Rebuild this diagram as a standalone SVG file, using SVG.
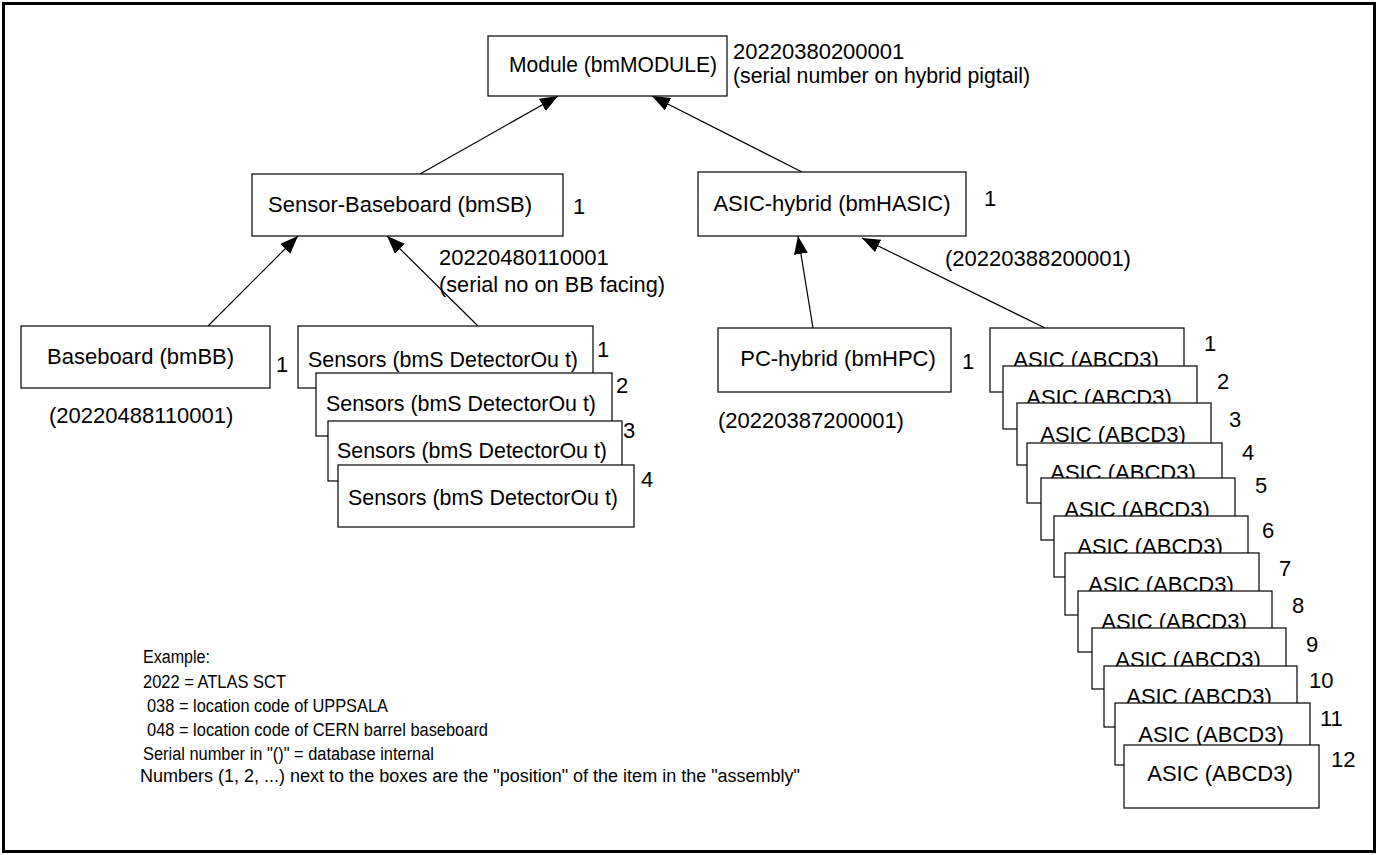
<svg xmlns="http://www.w3.org/2000/svg" width="1378" height="855" viewBox="0 0 1378 855">
<style>
.box{fill:#fff;stroke:#000;stroke-width:1.2}
.t{font-family:"Liberation Sans",Arial,sans-serif;font-size:22px;fill:#000}
.c{text-anchor:middle}
.s{font-family:"Liberation Sans",Arial,sans-serif;font-size:18px;fill:#000}
.ln{stroke:#000;stroke-width:1.2;fill:none;marker-end:url(#ah)}
</style>
<defs>
<marker id="ah" markerUnits="userSpaceOnUse" markerWidth="20" markerHeight="16" refX="18" refY="7" orient="auto">
<path d="M0,0 L18,7 L0,14 z" fill="#000"/>
</marker>
</defs>
<rect x="3.5" y="3.5" width="1371" height="848" fill="#fff" stroke="#000" stroke-width="3"/>

<g id="connectors">
<line class="ln" x1="420" y1="174" x2="558" y2="96"/>
<line class="ln" x1="802" y1="172" x2="652" y2="96"/>
<line class="ln" x1="208" y1="326" x2="298" y2="236"/>
<line class="ln" x1="478" y1="326" x2="387" y2="236"/>
<line class="ln" x1="813" y1="328" x2="798" y2="236"/>
<line class="ln" x1="1045" y1="328" x2="862" y2="238"/>
</g>

<g id="module">
<rect class="box" x="488" y="36" width="239" height="60"/>
<text class="t" x="509" y="72" textLength="208" lengthAdjust="spacingAndGlyphs">Module (bmMODULE)</text>
<text class="t" x="733" y="59">20220380200001</text>
<text class="t" x="733" y="83" textLength="297" lengthAdjust="spacingAndGlyphs">(serial number on hybrid pigtail)</text>
</g>

<g id="sensor-baseboard">
<rect class="box" x="252" y="174" width="311" height="62"/>
<text class="t" x="268" y="212">Sensor-Baseboard (bmSB)</text>
<text class="t" x="573" y="214">1</text>
<text class="t" x="439" y="265">20220480110001</text>
<text class="t" x="439" y="292" textLength="226" lengthAdjust="spacingAndGlyphs">(serial no on BB facing)</text>
</g>

<g id="asic-hybrid">
<rect class="box" x="698" y="172" width="268" height="64"/>
<text class="t c" x="832" y="211">ASIC-hybrid (bmHASIC)</text>
<text class="t" x="984" y="206">1</text>
<text class="t" x="945" y="266">(20220388200001)</text>
</g>

<g id="baseboard">
<rect class="box" x="21" y="326" width="249" height="62"/>
<text class="t" x="47" y="364">Baseboard (bmBB)</text>
<text class="t" x="276" y="372">1</text>
<text class="t" x="49" y="423">(20220488110001)</text>
</g>

<g id="sensors">
<rect class="box" x="298" y="326" width="295" height="62"/>
<text class="t" x="308" y="367" textLength="270" lengthAdjust="spacingAndGlyphs">Sensors (bmS DetectorOu t)</text>
<text class="t" x="597" y="357">1</text>
<rect class="box" x="316" y="373" width="296" height="63"/>
<text class="t" x="326" y="411" textLength="270" lengthAdjust="spacingAndGlyphs">Sensors (bmS DetectorOu t)</text>
<text class="t" x="616" y="393">2</text>
<rect class="box" x="328" y="421" width="294" height="60"/>
<text class="t" x="337" y="458" textLength="270" lengthAdjust="spacingAndGlyphs">Sensors (bmS DetectorOu t)</text>
<text class="t" x="623" y="438">3</text>
<rect class="box" x="338" y="465" width="296" height="62"/>
<text class="t" x="348" y="505" textLength="270" lengthAdjust="spacingAndGlyphs">Sensors (bmS DetectorOu t)</text>
<text class="t" x="641" y="487">4</text>
</g>

<g id="pc-hybrid">
<rect class="box" x="718" y="328" width="233" height="64"/>
<text class="t c" x="838" y="366">PC-hybrid (bmHPC)</text>
<text class="t" x="962" y="369">1</text>
<text class="t" x="718" y="428">(20220387200001)</text>
</g>

<g id="asics">
<rect class="box" x="990" y="328" width="194" height="64"/><text class="t c" x="1086" y="367">ASIC (ABCD3)</text><text class="t" x="1204" y="351">1</text>
<rect class="box" x="1003" y="366" width="194" height="63"/><text class="t c" x="1099" y="405">ASIC (ABCD3)</text><text class="t" x="1217" y="389">2</text>
<rect class="box" x="1017" y="403" width="194" height="62"/><text class="t c" x="1113" y="442">ASIC (ABCD3)</text><text class="t" x="1229" y="427">3</text>
<rect class="box" x="1027" y="443" width="195" height="60"/><text class="t c" x="1123" y="480">ASIC (ABCD3)</text><text class="t" x="1242" y="460">4</text>
<rect class="box" x="1041" y="478" width="194" height="62"/><text class="t c" x="1137" y="517">ASIC (ABCD3)</text><text class="t" x="1255" y="493">5</text>
<rect class="box" x="1054" y="516" width="194" height="61"/><text class="t c" x="1150" y="554">ASIC (ABCD3)</text><text class="t" x="1262" y="538">6</text>
<rect class="box" x="1065" y="553" width="194" height="62"/><text class="t c" x="1161" y="592">ASIC (ABCD3)</text><text class="t" x="1279" y="576">7</text>
<rect class="box" x="1078" y="591" width="194" height="61"/><text class="t c" x="1174" y="629">ASIC (ABCD3)</text><text class="t" x="1292" y="613">8</text>
<rect class="box" x="1092" y="628" width="194" height="61"/><text class="t c" x="1188" y="667">ASIC (ABCD3)</text><text class="t" x="1306" y="652">9</text>
<rect class="box" x="1104" y="666" width="193" height="61"/><text class="t c" x="1199" y="704">ASIC (ABCD3)</text><text class="t" x="1309" y="688">10</text>
<rect class="box" x="1115" y="703" width="195" height="62"/><text class="t c" x="1211" y="742">ASIC (ABCD3)</text><text class="t" x="1320" y="726">11</text>
<rect class="box" x="1124" y="745" width="195" height="63"/><text class="t c" x="1220" y="781">ASIC (ABCD3)</text><text class="t" x="1331" y="767">12</text>
</g>

<g id="legend">
<text class="s" x="143" y="663" textLength="67" lengthAdjust="spacingAndGlyphs">Example:</text>
<text class="s" x="143" y="688" textLength="143" lengthAdjust="spacingAndGlyphs">2022 = ATLAS SCT</text>
<text class="s" x="147" y="712" textLength="241" lengthAdjust="spacingAndGlyphs">038 = location code of UPPSALA</text>
<text class="s" x="147" y="736" textLength="341" lengthAdjust="spacingAndGlyphs">048 = location code of CERN barrel baseboard</text>
<text class="s" x="143" y="760" textLength="291" lengthAdjust="spacingAndGlyphs">Serial number in "()" = database internal</text>
<text class="s" x="140" y="782" textLength="660" lengthAdjust="spacingAndGlyphs">Numbers (1, 2, ...) next to the boxes are the "position" of the item in the "assembly"</text>
</g>
</svg>
